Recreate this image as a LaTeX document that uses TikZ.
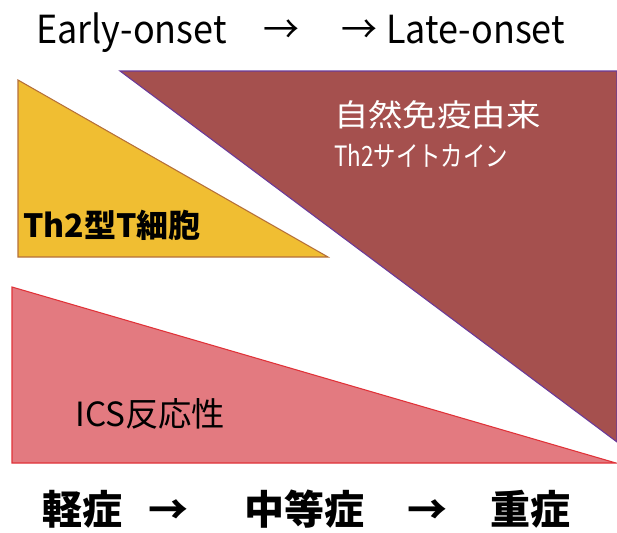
\documentclass[tikz,border=0pt]{standalone}
\usepackage{fontspec}
\setmainfont{Noto Sans CJK JP}
\newfontfamily\condfont[FakeStretch=0.8]{Noto Sans CJK JP}
\newfontfamily\titlefont[FakeStretch=0.93]{Noto Sans CJK JP}
\newfontfamily\widefont[FakeStretch=1.12]{Noto Sans CJK JP}
\definecolor{maroon}{HTML}{A5504E}
\definecolor{maroonedge}{HTML}{6A3A9A}
\definecolor{goldfill}{HTML}{F0BE32}
\definecolor{goldedge}{HTML}{B5703A}
\definecolor{pinkfill}{HTML}{E37A80}
\definecolor{pinkedge}{HTML}{E03238}
\tikzset{
  lbl/.style={inner sep=0pt, anchor=base west},
  ctr/.style={inner sep=0pt, anchor=base},
  band/.style={line width=0.8pt, line join=miter}
}
\begin{document}
\begin{tikzpicture}[x=0.75pt,y=-0.75pt]
\useasboundingbox (0,0) rectangle (617,532);
% shapes
\filldraw[band, fill=maroon, draw=maroonedge] (120,71) -- (617,71) -- (617,442) -- cycle;
\filldraw[band, fill=goldfill, draw=goldedge] (18,80) -- (18,257) -- (328,257) -- cycle;
\filldraw[band, fill=pinkfill, draw=pinkedge] (12,287) -- (12,463) -- (616,463) -- cycle;
% title
\tikzset{tfont/.style={font=\titlefont\fontsize{29pt}{31pt}\selectfont}}
\node[lbl, tfont] (early) at (36,43) {Early-onset};
\node[ctr, tfont] (arr1) at (281,43) {→};
\node[ctr, tfont] (arr1b) at (359,43) {→};
\node[lbl, tfont] (late) at (386,43) {Late-onset};
% inside texts
\node[lbl, text=white, font=\widefont\fontsize{23pt}{25pt}\selectfont] (innate) at (334,126) {自然免疫由来};
\node[lbl, text=white, font=\condfont\fontsize{21pt}{23pt}\selectfont] (cyto) at (334,166) {Th2サイトカイン};
\node[lbl, font=\bfseries\fontsize{24pt}{26pt}\selectfont] (th2) at (23,237) {Th2型T細胞};
\node[lbl, font=\fontsize{25pt}{27pt}\selectfont] (ics) at (75,426) {ICS反応性};
% bottom
\tikzset{bfont/.style={font=\bfseries\fontsize{30pt}{32pt}\selectfont}}
\node[ctr, bfont] (mild) at (82,524) {軽症};
\node[ctr, bfont] (arr2) at (168,524) {→};
\node[ctr, bfont] (mod) at (304,524) {中等症};
\node[ctr, bfont] (arr3) at (427,524) {→};
\node[ctr, bfont] (sev) at (530,524) {重症};
\end{tikzpicture}
\end{document}
